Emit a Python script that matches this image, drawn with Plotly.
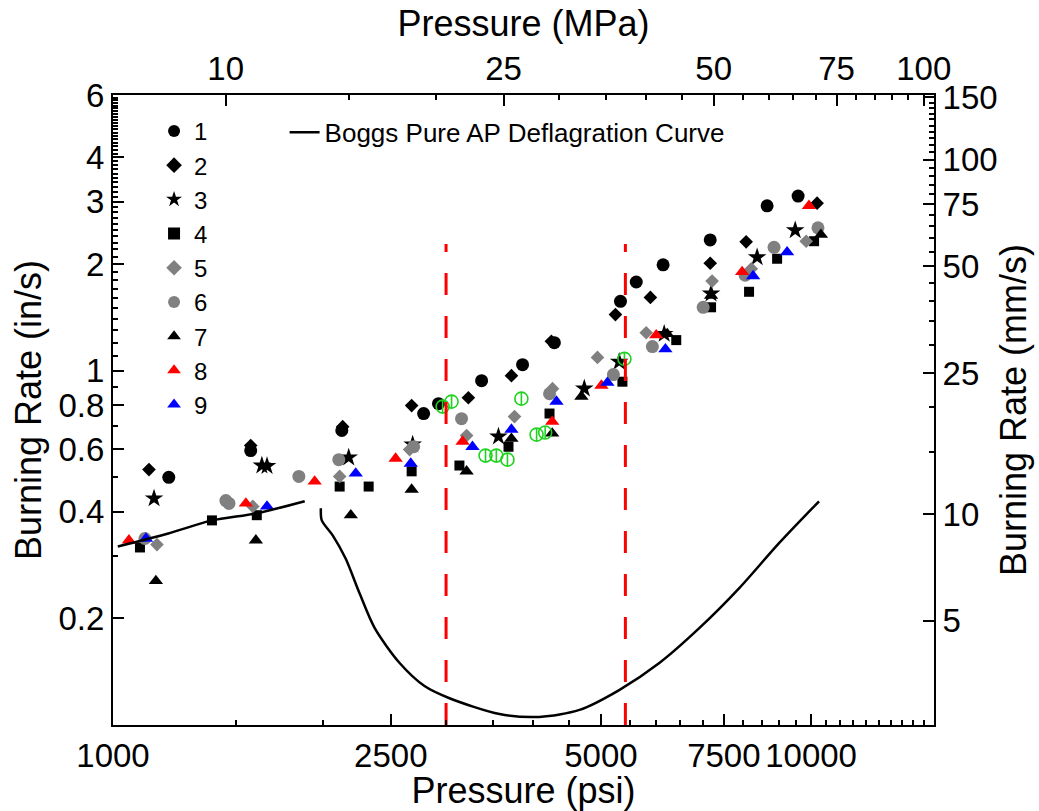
import math
import plotly.graph_objects as go

PSI_PER_MPA = 145.038
MMS_PER_INS = 25.4

# ---- data (pressure in psi, burning rate in in/s) ----
p1 = [1202, 1575, 2127, 2786, 2926, 3373, 3861, 4288, 5333, 5618, 6138, 7170, 8650, 9581]
r1 = [0.50, 0.595, 0.678, 0.757, 0.807, 0.937, 1.04, 1.20, 1.57, 1.78, 1.99, 2.34, 2.92, 3.11]

p2 = [1126, 1575, 2133, 2678, 3229, 3722, 4246, 5245, 5886, 7170, 8072, 10200]
r2 = [0.526, 0.615, 0.695, 0.797, 0.839, 0.968, 1.21, 1.44, 1.61, 2.01, 2.31, 2.97]

p3 = [1145, 1634, 1662, 2176, 2687, 3566, 4733, 5310, 6160, 7190, 8370, 9490]
r3 = [0.436, 0.540, 0.538, 0.569, 0.619, 0.652, 0.89, 1.06, 1.27, 1.65, 2.09, 2.49]

p4 = [1093, 1386, 1607, 2112, 2324, 2678, 3135, 3686, 4220, 5367, 6410, 7190, 8150, 8940, 10100]
r4 = [0.317, 0.378, 0.391, 0.471, 0.471, 0.52, 0.54, 0.61, 0.757, 0.931, 1.22, 1.51, 1.67, 2.07, 2.32]

p5 = [1156, 1586, 2112, 2660, 3210, 3760, 4262, 4943, 5805, 7215, 8210, 9840]
r5 = [0.323, 0.414, 0.503, 0.599, 0.656, 0.742, 0.89, 1.09, 1.28, 1.79, 1.94, 2.32]

p6 = [1111, 1451, 1466, 1846, 2106, 2696, 3157, 4220, 5210, 5925, 7005, 8047, 8850, 10230]
r6 = [0.336, 0.43, 0.422, 0.503, 0.561, 0.61, 0.732, 0.861, 0.975, 1.17, 1.51, 1.86, 2.23, 2.53]

p7 = [1152, 1602, 2191, 2678, 3210, 3722, 4258, 4688, 6222, 7190, 10330]
r7 = [0.255, 0.332, 0.391, 0.462, 0.52, 0.643, 0.665, 0.845, 1.27, 1.63, 2.42]

p8 = [1054, 1550, 1945, 2540, 3168, 4258, 5008, 6000, 7965, 9930]
r8 = [0.332, 0.422, 0.487, 0.565, 0.631, 0.718, 0.908, 1.26, 1.90, 2.92]

p9 = [1115, 1662, 2227, 2670, 3273, 3722, 4318, 5108, 6185, 8260, 9240]
r9 = [0.336, 0.414, 0.513, 0.547, 0.61, 0.682, 0.818, 0.925, 1.15, 1.85, 2.16]

p_green = [2966, 3055, 3417, 3541, 3673, 3846, 4044, 4160, 5403]
r_green = [0.792, 0.818, 0.576, 0.576, 0.561, 0.834, 0.660, 0.669, 1.08]

boggs_low_p = [1016, 1200, 1386, 1607, 1882]
boggs_low_r = [0.319, 0.347, 0.378, 0.396, 0.428]
boggs_high_p = [1985, 1991, 2064, 2154, 2256, 2371, 2574, 2794, 3034, 3578, 4083,
                4658, 5310, 6062, 6915, 7885, 8997, 10266]
boggs_high_r = [0.409, 0.378, 0.343, 0.295, 0.235, 0.1876, 0.1496, 0.1288, 0.119,
                0.1074, 0.1054, 0.1103, 0.1255, 0.1496, 0.1876, 0.243, 0.326, 0.428]

limit_p = [3000, 5420]
limit_r = [0.1, 2.28]

x_range_psi = [1000, 15000]
y_range_ins = [0.1, 6]

psi_ticks = [1000, 2500, 5000, 7500, 10000]
mpa_ticks = [10, 25, 50, 75, 100]
ins_ticks = [0.2, 0.4, 0.6, 0.8, 1, 2, 3, 4, 6]
ins_labels = ["0.2", "0.4", "0.6", "0.8", "1", "2", "3", "4", "6"]
mms_ticks = [5, 10, 25, 50, 75, 100, 150]

psi_minor = [v for v in range(1500, 15001, 500) if v not in psi_ticks]
mpa_minor = [15, 20, 30, 35, 40, 45, 55, 60, 65, 70, 80, 85, 90, 95]
ins_minor = ([0.3, 0.5, 0.7, 0.9] + [round(1 + 0.1 * i, 2) for i in range(1, 10)]
             + [round(2 + 0.1 * i, 2) for i in range(1, 40) if round(2 + 0.1 * i, 2) not in ins_ticks])
mms_minor = [15, 20, 30, 35, 40, 45, 55, 60, 65, 70, 80, 85, 90, 95] + list(range(105, 150, 5))

FONT = "Liberation Sans, Arial, sans-serif"

series = [
    ("1", p1, r1, "circle", "black", 13),
    ("2", p2, r2, "diamond", "black", 10.5),
    ("3", p3, r3, "star", "black", 14),
    ("4", p4, r4, "square", "black", 10),
    ("5", p5, r5, "diamond", "#808080", 10.5),
    ("6", p6, r6, "circle", "#808080", 13),
    ("7", p7, r7, "triangle-up", "black", 12.5),
    ("8", p8, r8, "triangle-up", "#ff0000", 12.5),
    ("9", p9, r9, "triangle-up", "#0000ff", 12.5),
]

fig = go.Figure()
for name, px, ry, sym, col, sz in series:
    fig.add_trace(go.Scatter(x=px, y=ry, mode="markers", name=name,
                             marker=dict(symbol=sym, color=col, size=sz, line=dict(width=0))))

fig.add_trace(go.Scatter(x=p_green, y=r_green, mode="markers", showlegend=False,
                         marker=dict(symbol="circle-open", color="#1ed21e", size=13,
                                     line=dict(width=1.6, color="#1ed21e"))))
fig.add_trace(go.Scatter(x=p_green, y=r_green, mode="markers", showlegend=False,
                         marker=dict(symbol="line-ns-open", color="#1ed21e", size=9,
                                     line=dict(width=1.6, color="#1ed21e"))))

fig.add_trace(go.Scatter(x=boggs_low_p, y=boggs_low_r, mode="lines", name="Boggs Pure AP Deflagration Curve",
                         line=dict(color="black", width=2.5, shape="spline", smoothing=0.8),
                         legend="legend2", legendgroup="boggs"))
fig.add_trace(go.Scatter(x=boggs_high_p, y=boggs_high_r, mode="lines", showlegend=False,
                         line=dict(color="black", width=2.5, shape="spline", smoothing=0.8),
                         legend="legend2", legendgroup="boggs"))

for p in limit_p:
    fig.add_trace(go.Scatter(x=[p, p], y=limit_r, mode="lines", showlegend=False,
                             line=dict(color="#ff0000", width=3, dash="22px,21px")))

# empty trace to attach the secondary axes
fig.add_trace(go.Scatter(x=[], y=[], xaxis="x2", yaxis="y2", showlegend=False))

tickfont = dict(family=FONT, size=33, color="black")
titlefont = dict(family=FONT, size=36, color="black")
common = dict(type="log", showline=True, linewidth=2, linecolor="black", ticks="inside",
              ticklen=11, tickwidth=2, tickcolor="black", showgrid=False, zeroline=False,
              tickfont=tickfont)

lo = math.log10
fig.update_layout(
    width=1039, height=811,
    margin=dict(l=113, r=105, t=95, b=84),
    paper_bgcolor="white", plot_bgcolor="white",
    font=dict(family=FONT, color="black"),
    xaxis=dict(range=[lo(x_range_psi[0]), lo(x_range_psi[1])], tickvals=psi_ticks,
               ticktext=[str(v) for v in psi_ticks],
               minor=dict(tickvals=psi_minor, ticks="inside", ticklen=5, tickwidth=2, tickcolor="black"),
               title=dict(text="Pressure (psi)", font=titlefont, standoff=0), **common),
    xaxis2=dict(range=[lo(x_range_psi[0] / PSI_PER_MPA), lo(x_range_psi[1] / PSI_PER_MPA)],
                overlaying="x", side="top", anchor="y", tickvals=mpa_ticks,
                ticktext=[str(v) for v in mpa_ticks],
                minor=dict(tickvals=mpa_minor, ticks="inside", ticklen=5, tickwidth=2, tickcolor="black"),
                title=dict(text="Pressure (MPa)", font=titlefont, standoff=2), **common),
    yaxis=dict(range=[lo(y_range_ins[0]), lo(y_range_ins[1])], tickvals=ins_ticks, ticktext=ins_labels,
               minor=dict(tickvals=ins_minor, ticks="inside", ticklen=5, tickwidth=1.5, tickcolor="black"),
               title=dict(text="Burning Rate (in/s)", font=titlefont, standoff=6), **common),
    yaxis2=dict(range=[lo(y_range_ins[0] * MMS_PER_INS), lo(y_range_ins[1] * MMS_PER_INS)],
                overlaying="y", side="right", anchor="x", tickvals=mms_ticks,
                ticktext=[str(v) for v in mms_ticks],
                minor=dict(tickvals=mms_minor, ticks="inside", ticklen=5, tickwidth=1.5, tickcolor="black"),
                title=dict(text="Burning Rate (mm/s)", font=titlefont, standoff=4), **common),
    legend=dict(x=0.05, y=0.978, xanchor="left", yanchor="top", bgcolor="rgba(0,0,0,0)",
                font=dict(family=FONT, size=24, color="black"), itemsizing="constant",
                tracegroupgap=0),
    legend2=dict(x=0.209, y=0.978, xanchor="left", yanchor="top", bgcolor="rgba(0,0,0,0)",
                 font=dict(family=FONT, size=26, color="black")),
)

fig.write_html("out.html")
